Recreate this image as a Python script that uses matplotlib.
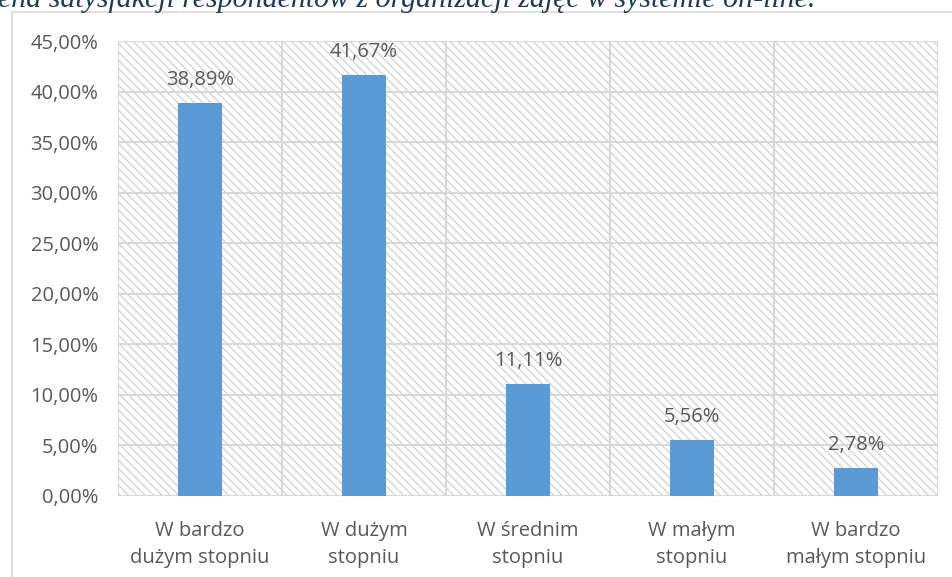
import matplotlib.pyplot as plt
import matplotlib.patches as mpatches
import numpy as np

categories = ["W bardzo\ndużym stopniu", "W dużym\nstopniu", "W średnim\nstopniu",
              "W małym\nstopniu", "W bardzo\nmałym stopniu"]
values = [38.89, 41.67, 11.11, 5.56, 2.78]
title = "ena satysfakcji respondentów z organizacji zajęć w systemie on-line."

TXT = "#595959"
GRID = "#D9D9D9"
BAR = "#5B9BD5"

plt.rcParams["font.family"] = ["Open Sans", "DejaVu Sans"]
plt.rcParams["hatch.linewidth"] = 0.9
plt.rcParams["hatch.color"] = "#D2D2D2"

fig = plt.figure(figsize=(9.53, 5.77), dpi=100)
W, H = 953, 577

# outer chart frame
fig.patches.append(mpatches.Rectangle((12 / W, -0.01), 1.0, (H - 12) / H + 0.01,
                                      transform=fig.transFigure, fill=False,
                                      edgecolor=GRID, lw=1.2))
fig.text(-0.002, 1 - 7 / H, title, fontsize=21.5, style="italic", family="Liberation Serif",
         color="#1F3864", va="baseline", ha="left")

ax = fig.add_axes([118 / W, (H - 496) / H, (938 - 118) / W, (496 - 41) / H])
x = np.arange(len(values))
ax.set_xlim(-0.5, len(values) - 0.5)
ax.set_ylim(0, 45)

# hatched plot-area background
ax.add_patch(mpatches.Rectangle((0, 0), 1, 1, transform=ax.transAxes, facecolor="white",
                                edgecolor="#D2D2D2", hatch="\\\\\\\\", lw=0, zorder=0))

for y in np.arange(0, 46, 5):
    ax.axhline(y, color=GRID, lw=1.5, zorder=1)
for xv in np.arange(-0.5, len(values), 1):
    ax.axvline(xv, color=GRID, lw=1.5, zorder=1)

ax.bar(x, values, width=0.27, color=BAR, zorder=2)
for xi, v in zip(x, values):
    ax.text(xi, v + 1.3, f"{v:.2f}%".replace(".", ","), ha="center", va="bottom",
            fontsize=14.5, color=TXT)

for s in ax.spines.values():
    s.set_visible(False)
ax.set_yticks(np.arange(0, 46, 5))
ax.set_yticklabels([f"{t:.2f}%".replace(".", ",") for t in np.arange(0, 46, 5)])
ax.set_xticks(x)
ax.set_xticklabels(categories, linespacing=1.45)
ax.tick_params(length=0, labelsize=14.5, labelcolor=TXT)
ax.tick_params(axis="y", pad=14)
ax.tick_params(axis="x", pad=18)

fig.savefig("out.png", dpi=100)
